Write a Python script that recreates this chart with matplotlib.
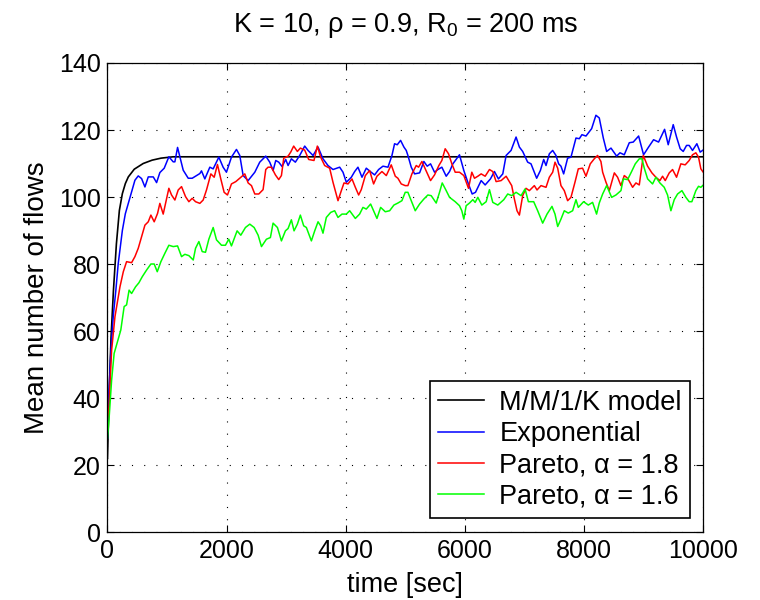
import numpy as np
import matplotlib
matplotlib.use("Agg")
import matplotlib.pyplot as plt

plt.rcParams['font.family'] = ['Liberation Sans', 'DejaVu Sans']
plt.rcParams['mathtext.fontset'] = 'custom'
plt.rcParams['mathtext.rm'] = 'Liberation Sans'

# values
t_model = [0, 30, 60, 100, 150, 200, 250, 300, 350, 450, 600, 750, 900, 1100, 10000]
n_model = [22, 42, 58, 72, 86, 96, 101, 104, 106, 108.3, 110, 111, 111.6, 112, 112]

t_exp = [0, 25, 60, 100, 140, 180, 250, 300, 380, 461, 517, 573, 629, 685, 769, 825, 880, 953,
         1031, 1104, 1132, 1177, 1216, 1272, 1356, 1423, 1551, 1579, 1635, 1719, 1775, 1870, 1942,
         1998, 2082, 2166, 2222, 2278, 2362, 2474, 2557, 2658, 2725, 2781, 2826, 2876, 2932, 2993,
         3033, 3088, 3155, 3228, 3312, 3368, 3452, 3536, 3619, 3703, 3787, 3899, 3955, 4011, 4095,
         4151, 4206, 4274, 4346, 4413, 4486, 4553, 4626, 4710, 4777, 4821, 4866, 4922, 4978, 5017,
         5045, 5101, 5157, 5241, 5313, 5369, 5425, 5492, 5548, 5615, 5688, 5744, 5800, 5911, 5984,
         6051, 6124, 6180, 6275, 6342, 6431, 6498, 6565, 6638, 6694, 6777, 6861, 6917, 6972, 7056,
         7112, 7207, 7269, 7325, 7364, 7420, 7476, 7531, 7576, 7615, 7660, 7727, 7783, 7867, 7923,
         7967, 8035, 8130, 8202, 8258, 8326, 8382, 8455, 8550, 8606, 8678, 8762, 8829, 8919, 9002,
         9086, 9170, 9254, 9355, 9416, 9500, 9556, 9617, 9668, 9724, 9768, 9824, 9897, 9953, 10000]
n_exp = [28, 42, 55, 65, 72, 80, 90, 95, 100, 105, 106.3, 105.5, 103, 106, 106, 104.3, 107.3, 108.6,
         112, 110.5, 110.5, 114.8, 112, 108, 105.6, 105.6, 107, 107.8, 105.4, 108.9, 108.4, 111.9, 108.9,
         107.4, 111.9, 114.2, 112.4, 106.4, 104.9, 107.4, 110.4, 112.2, 110.4, 107.9, 110.9, 110.4, 109.1, 111.2,
         109.4, 111.4, 110.4, 112.4, 115.2, 113.9, 112.4, 114.9, 111.4, 109.4, 108.2, 108.9, 107.4, 104.4, 105.9,
         107.6, 108.9, 105.9, 108.6, 107.6, 106.6, 108.2, 109.2, 108.9, 112.4, 115.9, 115.6, 116.9, 114.9, 113.9,
         112.4, 108.9, 106.9, 107.2, 110.6, 109.2, 109.9, 107.4, 108.2, 108.9, 106.2, 107.6, 109.9, 112.6, 107.9,
         104.4, 100.9, 101.4, 104.9, 103.6, 105.4, 107.6, 105.4, 106.9, 112.4, 113.9, 117.9, 114.9, 113.6, 110.4,
         109.9, 105.6, 107.9, 111.2, 109.4, 112.9, 113.9, 112.4, 109.9, 109.2, 106.9, 111.6, 111.9, 117.6, 117.4,
         118.6, 118.2, 120.4, 124.4, 123.6, 117.6, 113.6, 114.6, 112.2, 113.2, 112.6, 116.2, 116.4, 118.2, 112.6,
         114.9, 117.1, 116.4, 120.2, 115.6, 121.6, 117.9, 114.4, 113.6, 115.4, 115.4, 113.9, 115.9, 113.4, 114]

t_p18 = [0, 25, 70, 126, 210, 266, 321, 405, 461, 517, 573, 629, 685, 729, 785, 841, 880, 936, 1031,
         1076, 1132, 1188, 1244, 1311, 1367, 1423, 1479, 1551, 1607, 1663, 1736, 1792, 1847, 1903, 1959,
         2015, 2082, 2155, 2239, 2306, 2362, 2418, 2474, 2541, 2613, 2658, 2697, 2753, 2820, 2876, 2921,
         2960, 3033, 3077, 3127, 3189, 3239, 3312, 3379, 3468, 3524, 3580, 3647, 3731, 3787, 3871, 3927,
         3972, 4039, 4106, 4162, 4218, 4262, 4330, 4402, 4469, 4525, 4609, 4682, 4765, 4833, 4877, 4933,
         5000, 5045, 5112, 5185, 5224, 5280, 5336, 5425, 5492, 5565, 5615, 5671, 5727, 5783, 5839, 5911,
         5984, 6062, 6118, 6163, 6219, 6275, 6342, 6414, 6470, 6526, 6610, 6694, 6788, 6833, 6877, 6917,
         6972, 7028, 7084, 7168, 7213, 7280, 7364, 7420, 7476, 7515, 7560, 7615, 7671, 7727, 7783, 7850,
         7906, 7978, 8035, 8107, 8174, 8230, 8286, 8315, 8371, 8427, 8511, 8566, 8622, 8678, 8734, 8818,
         8874, 8930, 8997, 9070, 9142, 9209, 9276, 9321, 9366, 9433, 9489, 9556, 9628, 9701, 9768, 9824,
         9880, 9925, 9964, 10000]
n_p18 = [33, 37.4, 54.3, 64.3, 73.2, 77.7, 80.7, 80.4, 82.2, 84.7, 88.2, 91.6, 92.6, 94.6, 92.6, 95.1, 98.1, 94.9, 102.6,
         100.6, 99.1, 102.1, 103.1, 100.1, 98.6, 99.6, 98.6, 98.1, 99.1, 102.1, 106.9, 105.9, 109.7, 105.4, 101.4,
         100.6, 103.9, 104.6, 105.9, 106.9, 104.2, 103.4, 100.9, 100.9, 102.2, 108.2, 108.9, 108.9, 106.6, 105.2, 106.4,
         111.6, 112.2, 113.4, 115.2, 113.6, 114.6, 114.0, 111.2, 110.9, 115.2, 111.9, 109.4, 108.6, 104.4, 98.9, 101.9,
         104.2, 103.9, 105.4, 102.9, 100.6, 102.2, 106.4, 107.9, 103.9, 106.2, 107.6, 106.4, 109.6, 106.2, 105.6, 103.9,
         103.4, 103.4, 106.9, 109.4, 108.9, 110.6, 108.4, 104.9, 106.6, 109.4, 110.9, 114.4, 112.9, 109.9, 107.4, 107.4,
         106.4, 102.6, 107.4, 105.6, 106.2, 106.9, 106.2, 108.2, 107.6, 104.6, 104.9, 106.2, 103.4, 99.4, 95.9, 94.6,
         100.4, 102.6, 101.9, 103.4, 102.1, 103.4, 102.9, 105.9, 107.4, 110.4, 108.6, 103.4, 101.9, 98.9, 99.9, 104.4,
         108.4, 108.6, 106.2, 109.9, 111.4, 112.4, 110.6, 107.4, 104.4, 101.9, 107.2, 105.9, 103.4, 106.4, 105.6, 102.9,
         104.2, 103.6, 112.4, 109.2, 107.2, 105.9, 104.9, 106.2, 104.9, 107.2, 108.2, 105.9, 109.9, 109.6, 110.9, 112.6,
         113.2, 111.9, 108.4, 107.5]

t_p16 = [0, 25, 70, 112, 168, 224, 280, 321, 363, 405, 472, 528, 584, 657, 729, 785, 836, 897, 964,
         1031, 1104, 1177, 1244, 1300, 1367, 1440, 1479, 1535, 1591, 1646, 1702, 1775, 1831, 1915, 1981,
         2037, 2082, 2177, 2239, 2317, 2390, 2463, 2530, 2586, 2669, 2736, 2781, 2854, 2921, 2988, 3033,
         3088, 3133, 3189, 3239, 3295, 3340, 3396, 3424, 3480, 3536, 3580, 3619, 3675, 3748, 3815, 3871,
         3938, 4011, 4067, 4162, 4234, 4290, 4346, 4419, 4469, 4525, 4587, 4665, 4738, 4810, 4877, 4944,
         5000, 5045, 5101, 5168, 5241, 5313, 5380, 5436, 5520, 5576, 5621, 5688, 5744, 5839, 5911, 5950,
         5984, 6023, 6079, 6135, 6174, 6219, 6286, 6359, 6414, 6470, 6554, 6655, 6721, 6788, 6861, 6945,
         7012, 7068, 7157, 7224, 7308, 7381, 7464, 7515, 7560, 7615, 7671, 7738, 7811, 7867, 7906, 7995,
         8074, 8146, 8213, 8258, 8315, 8382, 8466, 8538, 8622, 8662, 8734, 8801, 8863, 8930, 8975, 9014,
         9070, 9153, 9209, 9276, 9349, 9405, 9461, 9517, 9573, 9646, 9712, 9768, 9813, 9880, 9925, 9964, 10000]
n_p16 = [28, 33.4, 45.4, 53.3, 56.8, 60.3, 67.3, 67.8, 72.2, 71.2, 73.2, 74.4, 76.2, 78.2, 80.0, 80.0, 77.7, 80.7, 83.2,
         85.6, 85.2, 85.4, 82.2, 82.9, 82.5, 81.2, 84.7, 86.7, 83.7, 83.5, 87.4, 90.9, 87.2, 85.6, 85.6,
         87.4, 85.4, 89.9, 88.6, 90.9, 91.9, 90.9, 88.6, 85.2, 87.4, 87.9, 92.2, 90.9, 86.9, 89.9, 90.6,
         93.2, 89.9, 91.9, 94.6, 91.4, 90.9, 88.2, 86.9, 89.9, 92.6, 91.4, 89.2, 93.9, 95.4, 95.9, 93.9,
         94.9, 94.9, 95.9, 93.6, 94.9, 96.9, 96.4, 97.9, 95.9, 93.6, 96.9, 95.6, 95.9, 97.6, 98.2, 98.9,
         101.4, 101.4, 98.9, 95.9, 97.9, 99.4, 100.6, 100.4, 98.2, 101.4, 104.2, 101.9, 99.9, 98.6, 97.4, 95.9,
         93.4, 97.4, 98.2, 99.2, 98.4, 99.9, 97.6, 98.6, 102.2, 98.4, 97.6, 99.2, 100.9, 100.4, 101.4, 100.4,
         102.4, 98.6, 98.6, 95.9, 92.2, 94.9, 97.2, 94.9, 91.2, 93.4, 95.9, 95.2, 95.9, 99.2, 96.9, 98.6,
         97.6, 98.4, 94.9, 98.2, 100.9, 103.4, 99.9, 100.6, 101.9, 105.4, 105.2, 107.6, 109.9, 111.4, 111.4, 108.6,
         105.4, 103.9, 105.9, 104.2, 102.9, 100.6, 95.9, 99.2, 100.9, 101.9, 99.9, 98.6, 98.6, 101.9, 103.2, 102.9, 103.5]

labels = ['M/M/1/K model', 'Exponential', r'Pareto, α = 1.8', r'Pareto, α = 1.6']

fig = plt.figure(figsize=(7.6, 6), dpi=100)
ax = fig.add_axes([0.1414, 0.1133, 0.7836, 0.7817])

ax.plot(t_model, n_model, color='k', linewidth=1.2, label=labels[0])
ax.plot(t_exp, n_exp, color='b', linewidth=1.1, label=labels[1])
ax.plot(t_p18, n_p18, color='r', linewidth=1.1, label=labels[2])
ax.plot(t_p16, n_p16, color=(0, 1, 0), linewidth=1.1, label=labels[3])

ax.set_xlim(0, 10000)
ax.set_ylim(0, 140)
ax.set_xticks(np.arange(0, 10001, 2000))
ax.set_yticks(np.arange(0, 141, 20))
ax.grid(True, color='k', linestyle=(0, (1, 10)), linewidth=0.8)
ax.tick_params(direction='in', top=True, right=True, labelsize=18, length=5, width=0.8, pad=5)
for s in ax.spines.values():
    s.set_linewidth(0.9)

ax.set_title(r'K = 10, ρ = 0.9, R$\mathregular{_0}$ = 200 ms', fontsize=19.5, pad=22)
ax.set_xlabel('time [sec]', fontsize=19.5)
ax.set_ylabel('Mean number of flows', fontsize=20)
ax.xaxis.set_label_coords(0.5, -0.113)
ax.xaxis.label.set_va('center')
ax.yaxis.set_label_coords(-0.118, 0.5)
ax.yaxis.label.set_va('center')

leg = ax.legend(loc='lower right', bbox_to_anchor=(0.978, 0.03), borderaxespad=0,
                fontsize=19.5, fancybox=False, edgecolor='k', framealpha=1,
                handlelength=1.7, handletextpad=0.55, labelspacing=0.2, borderpad=0.3)
leg.get_frame().set_linewidth(1.2)

fig.savefig('out.png', dpi=100)
